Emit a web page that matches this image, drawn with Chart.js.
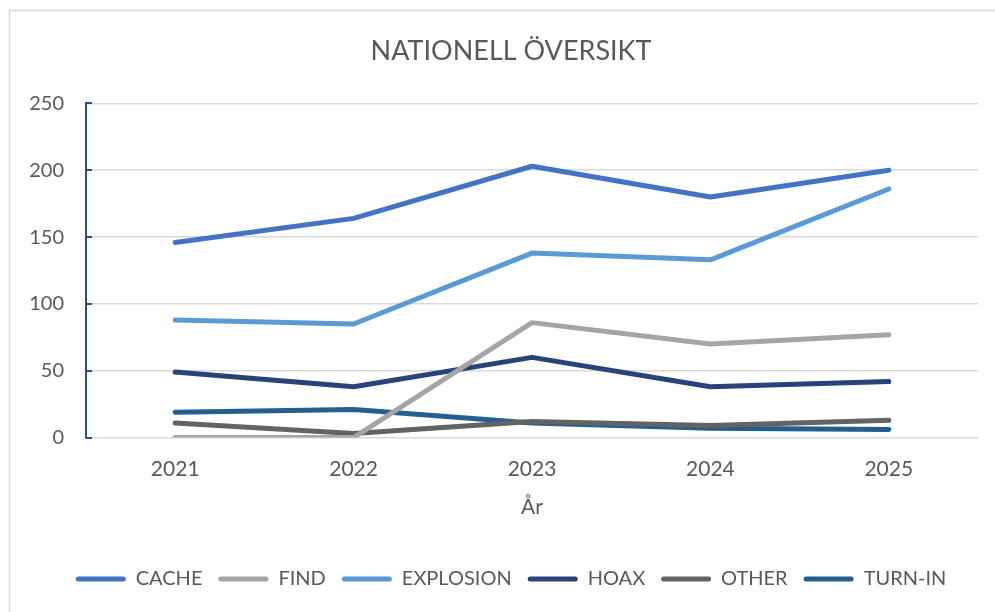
<!DOCTYPE html>
<html><head><meta charset="utf-8">
<script src="https://cdn.jsdelivr.net/npm/chart.js@4"></script>
<style>html,body{margin:0;padding:0;background:#fff;}#wrap{width:995px;height:612px;position:relative;}</style>
</head><body><div id="wrap"><canvas id="c" width="995" height="612"></canvas></div>
<script>
const years = ['2021','2022','2023','2024','2025'];
const cache = [146,164,203,180,200];
const find = [0,0,86,70,77];
const explosion = [88,85,138,133,186];
const hoax = [49,38,60,38,42];
const other = [11,3,12,9,13];
const turnIn = [19,21,11,7,6];
const seriesNames = ['CACHE','FIND','EXPLOSION','HOAX','OTHER','TURN-IN'];
const seriesColors = ['#4472C4','#A5A5A5','#5B9BD5','#264478','#636363','#255E91'];
const seriesData = [cache,find,explosion,hoax,other,turnIn];
const FONT = 'Lato, "Open Sans", sans-serif';

const frame = {
  id:'frame',
  beforeDraw(ch){const c=ch.ctx;c.save();c.strokeStyle='#D9D9D9';c.lineWidth=1.5;c.strokeRect(9.5,10.5,1000,620);c.restore();}
};
const widenLabelArea = {
  id:'widenLabelArea',
  afterLayout(ch){ ch.scales.y.left = 10; }
};
const innerTicks = {
  id:'innerTicks',
  beforeDatasetsDraw(ch){
    const y=ch.scales.y, c=ch.ctx, x0=ch.chartArea.left;
    c.save();c.strokeStyle='#2F4F8A';c.lineWidth=2;
    y.ticks.forEach(t=>{const py=Math.round(y.getPixelForValue(t.value));c.beginPath();c.moveTo(x0,py);c.lineTo(x0+6,py);c.stroke();});
    c.restore();
  }
};

new Chart(document.getElementById('c'),{
  type:'line',
  data:{labels:years,datasets:seriesData.map((d,i)=>({label:seriesNames[i],data:d,borderColor:seriesColors[i],backgroundColor:seriesColors[i],borderWidth:5,pointRadius:0,pointHoverRadius:0,tension:0,borderCapStyle:'round',borderJoinStyle:'round'}))},
  options:{
    responsive:false,animation:false,
    layout:{padding:{left:44,right:17,top:16,bottom:13}},
    plugins:{
      title:{display:true,text:'NATIONELL ÖVERSIKT',color:'#595959',font:{family:FONT,size:27,weight:'normal'},padding:{top:19,bottom:36}},
      legend:{position:'bottom',labels:{color:'#595959',font:{family:FONT,size:20},boxWidth:50,boxHeight:5,padding:16,
        generateLabels(ch){return ch.data.datasets.map((ds,i)=>({text:ds.label,fillStyle:ds.borderColor,strokeStyle:ds.borderColor,lineWidth:0,borderRadius:2.5,datasetIndex:i,fontColor:'#595959'}));}
      }},
      tooltip:{enabled:false}
    },
    scales:{
      x:{offset:true,grid:{display:false},border:{display:false},
        ticks:{color:'#595959',font:{family:FONT,size:21},padding:11},
        title:{display:true,text:'År',color:'#595959',font:{family:FONT,size:21},padding:{top:2,bottom:33}}},
      y:{min:0,max:250,grid:{color:'#D9D9D9',lineWidth:1.5,drawTicks:false},border:{display:true,color:'#2F4F8A',width:2},
        afterFit(s){s.width=42;},
        ticks:{stepSize:50,color:'#595959',font:{family:FONT,size:20},padding:22}}
    }
  },
  plugins:[frame,widenLabelArea,innerTicks]
});
</script></body></html>
